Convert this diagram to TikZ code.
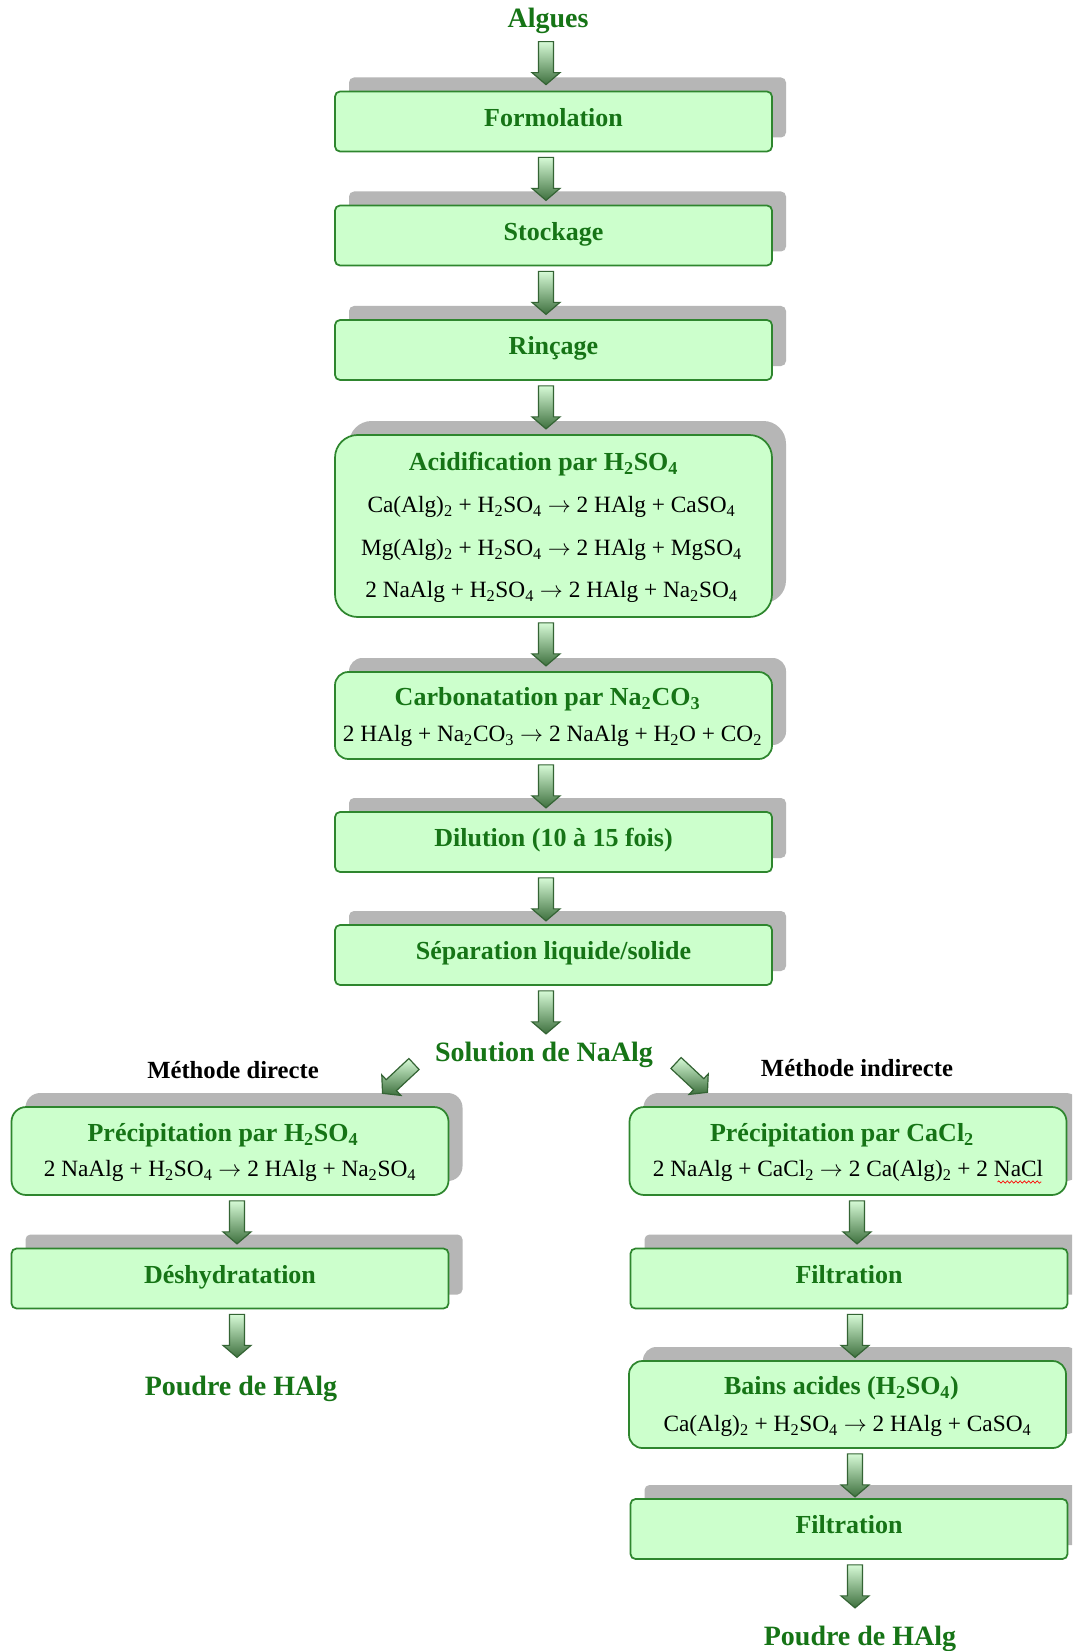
\documentclass[tikz,border=0pt]{standalone}
\usepackage{fontspec}
\setmainfont{Liberation Serif}
\usetikzlibrary{calc,shadows,decorations.pathmorphing}
\newcommand{\chs}[1]{\textsubscript{#1}}
\newcommand{\yields}{$\rightarrow$}
\newcommand{\ttlfnt}{\fontsize{19.5pt}{23pt}\selectfont\bfseries}
\newcommand{\bigfnt}{\fontsize{21pt}{25pt}\selectfont\bfseries}
\newcommand{\methfnt}{\fontsize{18.5pt}{22pt}\selectfont\bfseries}
\newcommand{\eqnfnt}{\fontsize{17.5pt}{21pt}\selectfont}
\definecolor{boxfill}{RGB}{204,255,204}
\definecolor{boxline}{RGB}{46,134,46}
\definecolor{titlegreen}{RGB}{22,116,22}
\definecolor{shadowgray}{RGB}{182,182,182}
\definecolor{arrtop}{RGB}{214,250,214}
\definecolor{arrbot}{RGB}{62,112,62}
\definecolor{arrline}{RGB}{52,100,52}
\begin{document}
\begin{tikzpicture}[x=0.75pt,y=-0.75pt,
  box/.style={draw=boxline, fill=boxfill, line width=1.3pt, rounded corners=3.75pt,
    minimum width=327.75pt, minimum height=45pt, inner sep=0pt,
    copy shadow={shadow xshift=10.5pt, shadow yshift=10.5pt, fill=shadowgray, draw=none},
    font=\ttlfnt, text=titlegreen, text height=13pt, text depth=6pt},
  ttl/.style={font=\ttlfnt, text=titlegreen, inner sep=0pt, text height=12.9pt, text depth=0pt},
  eqn/.style={font=\eqnfnt, text=black, inner sep=0pt, text height=11.6pt, text depth=0pt},
  big/.style={font=\bigfnt, text=titlegreen, inner sep=0pt, text height=13.9pt, text depth=0pt},
  meth/.style={font=\methfnt, text=black, inner sep=0pt, text height=12.2pt, text depth=0pt},
  downarr/.pic={
    \path[draw=arrline, line width=0.9pt, top color=arrtop, bottom color=arrbot, line join=miter]
      (-7.5,0) -- (7.5,0) -- (7.5,31) -- (14,31) -- (0,43) -- (-14,31) -- (-7.5,31) -- cycle;
  }]
\clip (0,0) rectangle (1072,1651);
\fill[white] (0,0) rectangle (1072,1651);

% main column
\node[big] (alg) at (548,18) {Algues};
\node[box] (form) at (553.5,121.5) {Formolation};
\node[box] (stock) at (553.5,235.5) {Stockage};
\node[box] (rinc) at (553.5,350) {Rinçage};
\node[box, minimum height=136.5pt, rounded corners=17pt] (acid) at (553.5,526) {};
\node[ttl] (acidT) at ($(acid.center)+(-10,-64)$) {Acidification par H\chs{2}SO\chs{4}};
\node[eqn] (acidE1) at ($(acid.center)+(-2,-21)$) {Ca(Alg)\chs{2} + H\chs{2}SO\chs{4} \yields{} 2 HAlg + CaSO\chs{4}};
\node[eqn] (acidE2) at ($(acid.center)+(-2,22)$) {Mg(Alg)\chs{2} + H\chs{2}SO\chs{4} \yields{} 2 HAlg + MgSO\chs{4}};
\node[eqn] (acidE3) at ($(acid.center)+(-2,64)$) {2 NaAlg + H\chs{2}SO\chs{4} \yields{} 2 HAlg + Na\chs{2}SO\chs{4}};
\node[box, minimum height=65.25pt, rounded corners=10pt] (carb) at (553.5,715.5) {};
\node[ttl] (carbT) at ($(carb.center)+(-6,-18.5)$) {Carbonatation par Na\chs{2}CO\chs{3}};
\node[eqn] (carbE) at ($(carb.center)+(-1,18.5)$) {2 HAlg + Na\chs{2}CO\chs{3} \yields{} 2 NaAlg + H\chs{2}O + CO\chs{2}};
\node[box] (dil) at (553.5,842) {Dilution (10 à 15 fois)};
\node[box] (sep) at (553.5,955) {Séparation liquide/solide};
\node[big] (sol) at (544,1052) {Solution de NaAlg};

% left column
\node[meth] (mdir) at (233,1070) {Méthode directe};
\node[box, minimum height=66pt, rounded corners=11pt] (precL) at (230,1151) {};
\node[ttl] (precLT) at ($(precL.center)+(-7,-18)$) {Précipitation par H\chs{2}SO\chs{4}};
\node[eqn] (precLE) at ($(precL.center)+(0,18)$) {2 NaAlg + H\chs{2}SO\chs{4} \yields{} 2 HAlg + Na\chs{2}SO\chs{4}};
\node[box] (desh) at (230,1278.5) {Déshydratation};
\node[big] (poudL) at (241,1386) {Poudre de HAlg};

% right column
\node[meth] (mind) at (857,1068) {Méthode indirecte};
\node[box, minimum height=66pt, rounded corners=11pt] (precR) at (848,1151) {};
\node[ttl] (precRT) at ($(precR.center)+(-6,-18)$) {Précipitation par CaCl\chs{2}};
\node[eqn] (precRE) at ($(precR.center)+(0,18)$) {2 NaAlg + CaCl\chs{2} \yields{} 2 Ca(Alg)\chs{2} + 2 NaCl};
\draw[red, line width=0.5pt, decorate, decoration={snake, amplitude=0.9pt, segment length=3.2pt}]
  ($(precRE.south east)+(-46,5)$) -- ($(precRE.south east)+(-2,5)$);
\node[box] (filt1) at (849,1278.5) {Filtration};
\node[box, minimum height=65.25pt, rounded corners=10pt] (bains) at (847.5,1404.5) {};
\node[ttl] (bainsT) at ($(bains.center)+(-6,-18.5)$) {Bains acides (H\chs{2}SO\chs{4})};
\node[eqn] (bainsE) at ($(bains.center)+(0,19.5)$) {Ca(Alg)\chs{2} + H\chs{2}SO\chs{4} \yields{} 2 HAlg + CaSO\chs{4}};
\node[box] (filt2) at (849,1529) {Filtration};
\node[big] (poudR) at (860,1636) {Poudre de HAlg};

% arrows
\pic (a0) at ($(form.north)+(-7.5,-49)$) {downarr};
\pic (a1) at ($(form.south)+(-7.5,5)$) {downarr};
\pic (a2) at ($(stock.south)+(-7.5,5)$) {downarr};
\pic (a3) at ($(rinc.south)+(-7.5,5)$) {downarr};
\pic (a4) at ($(acid.south)+(-7.5,5)$) {downarr};
\pic (a5) at ($(carb.south)+(-7.5,5)$) {downarr};
\pic (a6) at ($(dil.south)+(-7.5,5)$) {downarr};
\pic (a7) at ($(sep.south)+(-7.5,5)$) {downarr};
\pic[rotate=-47] (a8) at ($(sol.center)+(-130,12)$) {downarr};
\pic[rotate=47] (a9) at ($(sol.center)+(132,11)$) {downarr};
\pic (a10) at ($(precL.south)+(7,5)$) {downarr};
\pic (a11) at ($(desh.south)+(7,5)$) {downarr};
\pic (a12) at ($(precR.south)+(9,5)$) {downarr};
\pic (a13) at ($(filt1.south)+(6,5)$) {downarr};
\pic (a14) at ($(bains.south)+(7.5,5)$) {downarr};
\pic (a15) at ($(filt2.south)+(6,5)$) {downarr};
\end{tikzpicture}
\end{document}
